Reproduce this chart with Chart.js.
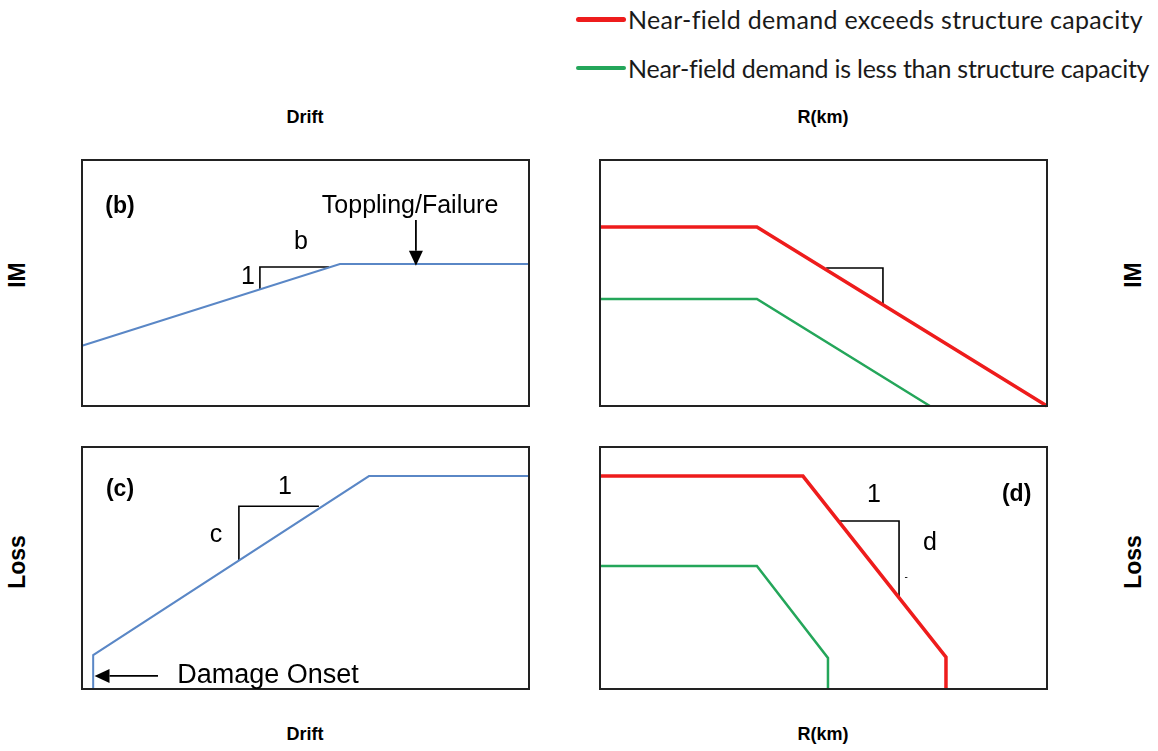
<!DOCTYPE html>
<html>
<head>
<meta charset="utf-8">
<script src="https://cdn.jsdelivr.net/npm/chart.js@4/dist/chart.umd.min.js"></script>
<style>
  html, body { margin: 0; padding: 0; background: #fff; }
  body { position: relative; width: 1158px; height: 751px; overflow: hidden;
         font-family: "Liberation Sans", Arial, sans-serif; color: #000; }
  canvas { position: absolute; }
  .ttl { position: absolute; font-weight: bold; font-size: 18px; line-height: 18px;
         white-space: nowrap; transform: translate(-50%, -50%); }
  .rot { font-size: 23px; line-height: 23px; transform: translate(-50%, -50%) rotate(-90deg); }
  .legend { position: absolute; left: 576px; font-family: Lato, "Open Sans", sans-serif;
            font-size: 25px; line-height: 30px; white-space: nowrap; display: flex; align-items: center; color: #1a1a1a; }
  .legend i { display: inline-block; width: 50px; height: 5px; border-radius: 3px; margin-right: 2px; }
</style>
</head>
<body>
<div class="legend" style="top:4px;letter-spacing:0.3px"><i style="background:#ee1c1c"></i>Near-field demand exceeds structure capacity</div>
<div class="legend" style="top:53px;letter-spacing:-0.25px"><i style="background:#24a65a;height:4px"></i>Near-field demand is less than structure capacity</div>

<div class="ttl" style="left:305px;top:117px">Drift</div>
<div class="ttl" style="left:823px;top:117px">R(km)</div>
<div class="ttl" style="left:305px;top:734px">Drift</div>
<div class="ttl" style="left:823px;top:734px">R(km)</div>
<div class="ttl rot" style="left:17px;top:275px">IM</div>
<div class="ttl rot" style="left:1133px;top:275px">IM</div>
<div class="ttl rot" style="left:17px;top:562px">Loss</div>
<div class="ttl rot" style="left:1133px;top:562px">Loss</div>

<canvas id="pb" width="455" height="254" style="left:78px;top:156px"></canvas>
<canvas id="pa" width="455" height="254" style="left:596px;top:156px"></canvas>
<canvas id="pc" width="455" height="250" style="left:78px;top:443px"></canvas>
<canvas id="pd" width="455" height="250" style="left:596px;top:443px"></canvas>

<script>
// ---- Panel (b): IM against drift (relative units 0-100) ----
const bDrift = [0, 57.7, 100];
const bIM    = [24.5, 57.7, 57.7];
const bSlopeX = [39.8, 39.8, 55.3];
const bSlopeY = [47.4, 56.5, 56.5];

// ---- Upper right: IM against distance R ----
const aRedR   = [0, 35.1, 100];
const aRedIM  = [72.8, 72.8, 0];
const aGreenR  = [0, 35.1, 73.8];
const aGreenIM = [43.5, 43.5, 0];
const aSlopeX = [50.6, 63.3, 63.3];
const aSlopeY = [56.1, 56.1, 41.2];

// ---- Panel (c): loss against drift ----
const cDrift = [2.5, 2.5, 64.2, 100];
const cLoss  = [0, 14.0, 88.0, 88.0];
const cSlopeX = [35.1, 35.1, 53.0];
const cSlopeY = [53.1, 75.5, 75.5];

// ---- Panel (d): loss against distance R ----
const dRedR    = [0, 45.4, 77.4, 77.4];
const dRedLoss = [88.0, 88.0, 13.2, 0];
const dGreenR    = [0, 35.1, 51.0, 51.0];
const dGreenLoss = [50.8, 50.8, 12.8, 0];
const dSlopeX = [53.7, 66.9, 66.9];
const dSlopeY = [69.4, 69.4, 37.7];

const RED = '#ee1c1c', GREEN = '#24a65a', BLUE = '#5a87c6', INK = '#000';

const pts = (xs, ys) => xs.map((x, i) => ({ x, y: ys[i] }));
const series = (xs, ys, color, width) => ({
  data: pts(xs, ys), borderColor: color, borderWidth: width,
  pointRadius: 0, tension: 0, fill: false, clip: false,
  borderJoinStyle: 'miter', borderCapStyle: 'butt'
});

// Frame, labels and arrows placed in data units through the chart scales
function notesPlugin(notes) {
  return {
    id: 'notes',
    afterDatasetsDraw(chart) {
      const { ctx, chartArea: a, scales: { x, y } } = chart;
      ctx.save();
      ctx.strokeStyle = '#222';
      ctx.lineWidth = 2;
      ctx.strokeRect(a.left, a.top, a.right - a.left, a.bottom - a.top);
      ctx.fillStyle = INK;
      ctx.textBaseline = 'middle';
      (notes.texts || []).forEach(t => {
        ctx.font = (t.bold ? 'bold ' : '') + t.size + 'px "Liberation Sans", Arial, sans-serif';
        ctx.textAlign = t.align || 'center';
        ctx.fillText(t.text, x.getPixelForValue(t.x), y.getPixelForValue(t.y));
      });
      (notes.arrows || []).forEach(ar => {
        const x1 = x.getPixelForValue(ar.from[0]), y1 = y.getPixelForValue(ar.from[1]);
        const x2 = x.getPixelForValue(ar.to[0]),   y2 = y.getPixelForValue(ar.to[1]);
        const ang = Math.atan2(y2 - y1, x2 - x1);
        const len = 15, half = 7;
        const bx = x2 - len * Math.cos(ang), by = y2 - len * Math.sin(ang);
        ctx.strokeStyle = INK;
        ctx.lineWidth = 1.8;
        ctx.beginPath(); ctx.moveTo(x1, y1); ctx.lineTo(bx, by); ctx.stroke();
        ctx.beginPath();
        ctx.moveTo(x2, y2);
        ctx.lineTo(bx + half * Math.sin(ang), by - half * Math.cos(ang));
        ctx.lineTo(bx - half * Math.sin(ang), by + half * Math.cos(ang));
        ctx.closePath(); ctx.fill();
      });
      ctx.restore();
    }
  };
}

function panel(id, datasets, notes) {
  return new Chart(document.getElementById(id), {
    type: 'line',
    data: { datasets },
    options: {
      responsive: false, animation: false, devicePixelRatio: 1,
      layout: { padding: 4 },
      plugins: { legend: { display: false }, tooltip: { enabled: false } },
      scales: {
        x: { type: 'linear', min: 0, max: 100, display: false },
        y: { type: 'linear', min: 0, max: 100, display: false }
      }
    },
    plugins: [notesPlugin(notes)]
  });
}

panel('pb', [
  series(bDrift, bIM, BLUE, 2),
  series(bSlopeX, bSlopeY, INK, 1.6)
], {
  texts: [
    { text: '(b)', x: 8.5, y: 80.9, size: 23, bold: true },
    { text: 'Toppling/Failure', x: 73.4, y: 81.3, size: 25 },
    { text: 'b', x: 49.0, y: 66.7, size: 25 },
    { text: '1', x: 37.1, y: 52.4, size: 25 }
  ],
  arrows: [ { from: [74.7, 75.6], to: [74.7, 57.0] } ]
});

panel('pa', [
  series(aRedR, aRedIM, RED, 3.5),
  series(aGreenR, aGreenIM, GREEN, 2.5),
  series(aSlopeX, aSlopeY, INK, 1.6)
], {});

panel('pc', [
  series(cDrift, cLoss, BLUE, 2),
  series(cSlopeX, cSlopeY, INK, 1.6)
], {
  texts: [
    { text: '(c)', x: 8.5, y: 82.2, size: 23, bold: true },
    { text: 'c', x: 30.0, y: 63.6, size: 25 },
    { text: '1', x: 45.4, y: 83.5, size: 25 },
    { text: 'Damage Onset', x: 21.3, y: 5.4, size: 27, align: 'left' }
  ],
  arrows: [ { from: [17.0, 5.4], to: [2.8, 5.4] } ]
});

panel('pd', [
  series(dRedR, dRedLoss, RED, 3.5),
  series(dGreenR, dGreenLoss, GREEN, 2.5),
  series(dSlopeX, dSlopeY, INK, 1.6)
], {
  texts: [
    { text: '(d)', x: 93.2, y: 80.2, size: 23, bold: true },
    { text: '1', x: 61.3, y: 80.2, size: 25 },
    { text: 'd', x: 73.8, y: 60.3, size: 25 },
    { text: '-', x: 68.5, y: 46.3, size: 10 }
  ]
});
</script>
</body>
</html>
